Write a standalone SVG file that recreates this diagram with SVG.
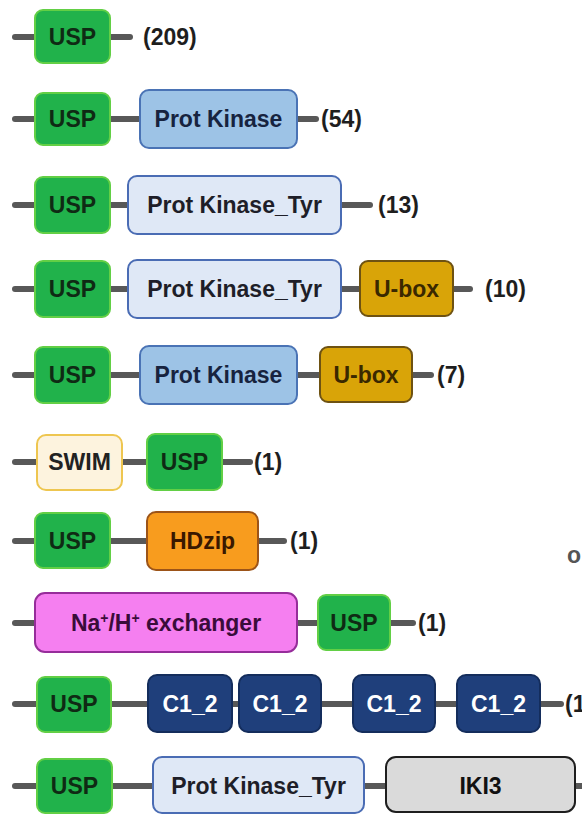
<svg xmlns="http://www.w3.org/2000/svg" width="582" height="814" viewBox="0 0 582 814">
<style>
text{font-family:"Liberation Sans",Arial,sans-serif;font-weight:bold;font-size:23px}
.lbl{text-anchor:middle}
.bb{stroke:#585858;stroke-width:6;stroke-linecap:round;fill:none}
.usp rect{fill:#21b24b;stroke:#62cf45;stroke-width:2}
.usp text{fill:#0f2a14}
.pk rect{fill:#9dc3e6;stroke:#4a73b5;stroke-width:2}
.pk text{fill:#17233f}
.pkt rect{fill:#dfe8f6;stroke:#4a6cb4;stroke-width:2}
.pkt text{fill:#1e1e28}
.ubox rect{fill:#d9a408;stroke:#6e5212;stroke-width:2}
.ubox text{fill:#3a2800}
.swim rect{fill:#fdf3de;stroke:#eec650;stroke-width:2}
.swim text{fill:#222}
.hd rect{fill:#f89c1e;stroke:#9c5418;stroke-width:2}
.hd text{fill:#3a1800}
.na rect{fill:#f57ff0;stroke:#962d9a;stroke-width:2}
.na text{fill:#3a0c3a}
.c12 rect{fill:#1f3f7b;stroke:#142d5c;stroke-width:2}
.c12 text{fill:#ffffff}
.iki rect{fill:#dadada;stroke:#1e1e1e;stroke-width:2}
.iki text{fill:#111}
.cnt{fill:#1e1e1e}
</style>
<rect width="582" height="814" fill="#ffffff"/>
<g id="connectors">
<line class="bb" x1="15" y1="37" x2="130" y2="37"/>
<line class="bb" x1="15" y1="119" x2="316" y2="119"/>
<line class="bb" x1="15" y1="205" x2="370" y2="205"/>
<line class="bb" x1="15" y1="289" x2="470" y2="289"/>
<line class="bb" x1="15" y1="375" x2="431" y2="375"/>
<line class="bb" x1="15" y1="462" x2="250" y2="462"/>
<line class="bb" x1="15" y1="541" x2="284" y2="541"/>
<line class="bb" x1="15" y1="623" x2="413" y2="623"/>
<line class="bb" x1="15" y1="704" x2="561" y2="704"/>
<line class="bb" x1="15" y1="786" x2="586" y2="786"/>
</g>
<g id="row1">
<g id="r1-usp" class="usp"><rect x="35" y="10" width="75" height="53" rx="8"/><text class="lbl" x="72.5" y="45">USP</text></g>
<text id="r1-count" class="cnt" x="143" y="45">(209)</text>
</g>
<g id="row2">
<g id="r2-usp" class="usp"><rect x="35" y="93" width="75" height="52" rx="8"/><text class="lbl" x="72.5" y="127">USP</text></g>
<g id="r2-pk" class="pk"><rect x="140" y="90" width="157" height="58" rx="9"/><text class="lbl" x="218.5" y="127">Prot Kinase</text></g>
<text id="r2-count" class="cnt" x="321" y="127">(54)</text>
</g>
<g id="row3">
<g id="r3-usp" class="usp"><rect x="35" y="177" width="75" height="56" rx="8"/><text class="lbl" x="72.5" y="213">USP</text></g>
<g id="r3-pkt" class="pkt"><rect x="128" y="176" width="213" height="58" rx="9"/><text class="lbl" x="234.5" y="213">Prot Kinase_Tyr</text></g>
<text id="r3-count" class="cnt" x="378" y="213">(13)</text>
</g>
<g id="row4">
<g id="r4-usp" class="usp"><rect x="35" y="261" width="75" height="56" rx="8"/><text class="lbl" x="72.5" y="297">USP</text></g>
<g id="r4-pkt" class="pkt"><rect x="128" y="260" width="213" height="58" rx="9"/><text class="lbl" x="234.5" y="297">Prot Kinase_Tyr</text></g>
<g id="r4-ubox" class="ubox"><rect x="360" y="261" width="93" height="55" rx="8"/><text class="lbl" x="406.5" y="297">U-box</text></g>
<text id="r4-count" class="cnt" x="485" y="297">(10)</text>
</g>
<g id="row5">
<g id="r5-usp" class="usp"><rect x="35" y="347" width="75" height="56" rx="8"/><text class="lbl" x="72.5" y="383">USP</text></g>
<g id="r5-pk" class="pk"><rect x="140" y="346" width="157" height="58" rx="9"/><text class="lbl" x="218.5" y="383">Prot Kinase</text></g>
<g id="r5-ubox" class="ubox"><rect x="320" y="347" width="92" height="55" rx="8"/><text class="lbl" x="366" y="383">U-box</text></g>
<text id="r5-count" class="cnt" x="437" y="383">(7)</text>
</g>
<g id="row6">
<g id="r6-swim" class="swim"><rect x="37" y="435" width="85" height="55" rx="9"/><text class="lbl" x="79.5" y="470">SWIM</text></g>
<g id="r6-usp" class="usp"><rect x="147" y="434" width="75" height="56" rx="8"/><text class="lbl" x="184.5" y="470">USP</text></g>
<text id="r6-count" class="cnt" x="254" y="470">(1)</text>
</g>
<g id="row7">
<g id="r7-usp" class="usp"><rect x="35" y="513" width="75" height="55" rx="8"/><text class="lbl" x="72.5" y="549">USP</text></g>
<g id="r7-hdzip" class="hd"><rect x="147" y="512" width="111" height="58" rx="9"/><text class="lbl" x="202.5" y="549">HDzip</text></g>
<text id="r7-count" class="cnt" x="290" y="549">(1)</text>
</g>
<g id="row8">
<g id="r8-na" class="na"><rect x="35" y="593" width="262" height="59" rx="10"/><text class="lbl" x="166" y="631">Na<tspan dy="-8" font-size="14">+</tspan><tspan dy="8">/H</tspan><tspan dy="-8" font-size="14">+</tspan><tspan dy="8"> exchanger</tspan></text></g>
<g id="r8-usp" class="usp"><rect x="318" y="595" width="72" height="55" rx="8"/><text class="lbl" x="354" y="631">USP</text></g>
<text id="r8-count" class="cnt" x="418" y="631">(1)</text>
</g>
<g id="row9">
<g id="r9-usp" class="usp"><rect x="37" y="677" width="74" height="55" rx="8"/><text class="lbl" x="74" y="712">USP</text></g>
<g id="r9-c1" class="c12"><rect x="148" y="675" width="84" height="57" rx="9"/><text class="lbl" x="190" y="712">C1_2</text></g>
<g id="r9-c2" class="c12"><rect x="239" y="675" width="82" height="57" rx="9"/><text class="lbl" x="280" y="712">C1_2</text></g>
<g id="r9-c3" class="c12"><rect x="353" y="675" width="82" height="57" rx="9"/><text class="lbl" x="394" y="712">C1_2</text></g>
<g id="r9-c4" class="c12"><rect x="457" y="675" width="83" height="57" rx="9"/><text class="lbl" x="498.5" y="712">C1_2</text></g>
<text id="r9-count" class="cnt" x="565" y="712">(1</text>
</g>
<g id="row10">
<g id="r10-usp" class="usp"><rect x="37" y="759" width="75" height="54" rx="8"/><text class="lbl" x="74.5" y="794">USP</text></g>
<g id="r10-pkt" class="pkt"><rect x="153" y="757" width="211" height="56" rx="9"/><text class="lbl" x="258.5" y="794">Prot Kinase_Tyr</text></g>
<g id="r10-iki3" class="iki"><rect x="386" y="757" width="189" height="55" rx="10"/><text class="lbl" x="480.5" y="794">IKI3</text></g>
</g>
<text id="stray-o" x="567" y="563" font-size="16" fill="#555">o</text>
</svg>
